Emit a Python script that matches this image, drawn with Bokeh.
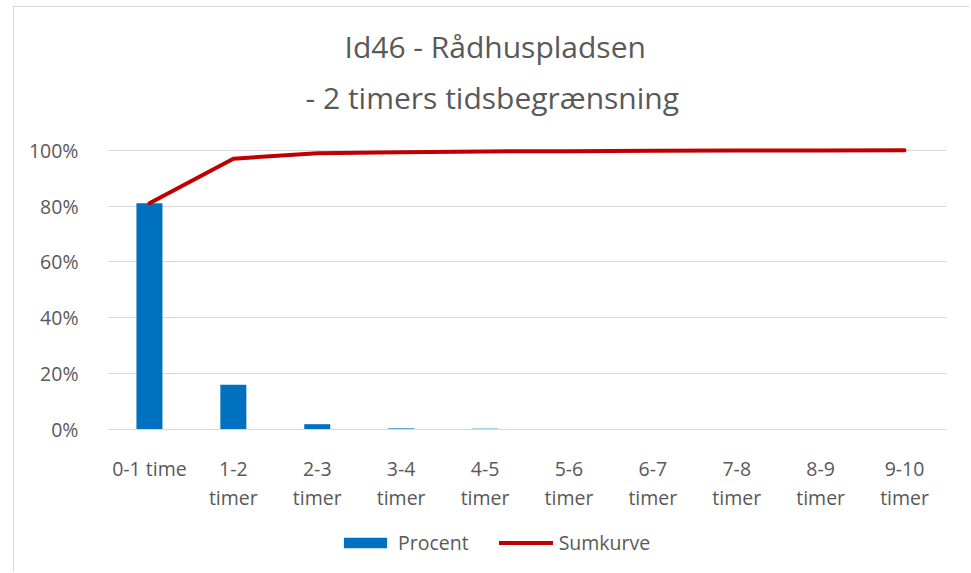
from bokeh.plotting import figure
from bokeh.models import Range1d, FactorRange, Title, Legend, LegendItem, NumeralTickFormatter, FixedTicker
from bokeh.embed import file_html
from bokeh.resources import INLINE

categories = ["0-1 time", "1-2\ntimer", "2-3\ntimer", "3-4\ntimer", "4-5\ntimer",
              "5-6\ntimer", "6-7\ntimer", "7-8\ntimer", "8-9\ntimer", "9-10\ntimer"]
procent = [0.81, 0.16, 0.019, 0.004, 0.003, 0.001, 0.0, 0.0, 0.0, 0.0]
sumkurve = [0.81, 0.97, 0.989, 0.993, 0.996, 0.997, 0.998, 0.999, 0.999, 1.0]
y_ticks = [0, 0.2, 0.4, 0.6, 0.8, 1.0]
title_line1 = "Id46 - Rådhuspladsen"
title_line2 = "- 2 timers tidsbegrænsning"

FONT = "Open Sans"
TXT = "#595959"
GRID = "#d9d9d9"
LBL = "19.5px"

# frame extends below the 0% line so the category labels and legend live inside it
p = figure(width=955, height=564, frame_width=839, frame_height=424,
           x_range=FactorRange(factors=categories, range_padding=0),
           y_range=Range1d(-0.5086, 1.01), output_backend="svg", toolbar_location=None,
           min_border_left=93, min_border_right=23, min_border_top=140, min_border_bottom=0,
           styles={"border-left": "1px solid #d9d9d9", "border-top": "1px solid #d9d9d9",
                   "margin-left": "13px", "margin-top": "6px"})
p.outline_line_color = None
p.background_fill_color = "white"
p.border_fill_color = "white"

bars = p.vbar(x=categories, top=procent, width=0.31, fill_color="#0070C0", line_color=None)
line = p.line(x=categories, y=sumkurve, line_color="#C00000", line_width=4, line_cap="round", line_join="round")

p.xgrid.grid_line_color = None
p.ygrid.grid_line_color = GRID
p.ygrid.grid_line_width = 1
p.ygrid.ticker = FixedTicker(ticks=y_ticks)

p.yaxis.ticker = FixedTicker(ticks=y_ticks)
p.yaxis.formatter = NumeralTickFormatter(format="0%")
p.yaxis.axis_line_color = None
p.yaxis.major_tick_line_color = None
p.yaxis.minor_tick_line_color = None
p.yaxis.major_label_standoff = 23
p.yaxis.major_label_text_font = FONT
p.yaxis.major_label_text_font_size = LBL
p.yaxis.major_label_text_color = TXT

p.xaxis.fixed_location = 0
p.xaxis.axis_line_color = GRID
p.xaxis.major_tick_line_color = None
p.xaxis.minor_tick_line_color = None
p.xaxis.major_label_standoff = 20
p.xaxis.major_label_text_font = FONT
p.xaxis.major_label_text_font_size = LBL
p.xaxis.major_label_text_color = TXT
p.xaxis.major_label_text_line_height = 1.05

p.add_layout(Title(text=title_line2, align="left", standoff=59, offset=198,
                   text_font=FONT, text_font_size="30px", text_color=TXT,
                   text_font_style="normal"), "above")
p.add_layout(Title(text=title_line1, align="left", standoff=-43, offset=237,
                   text_font=FONT, text_font_size="30px", text_color=TXT,
                   text_font_style="normal"), "above")

legend = Legend(items=[LegendItem(label="Procent", renderers=[bars]),
                       LegendItem(label="Sumkurve", renderers=[line])],
                location=(231, 15), orientation="horizontal",
                border_line_color=None, background_fill_alpha=0,
                padding=0, margin=0, spacing=30, label_standoff=6,
                glyph_width=54, glyph_height=13,
                label_text_font=FONT, label_text_font_size=LBL, label_text_color=TXT)
p.add_layout(legend, "center")

open("out.html", "w").write(file_html(p, INLINE))
